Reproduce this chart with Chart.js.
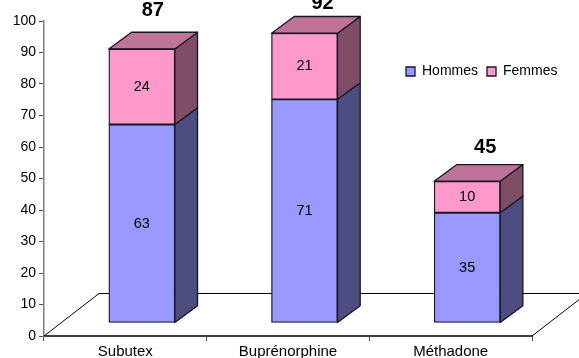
<!DOCTYPE html>
<html>
<head>
<meta charset="utf-8">
<style>html,body{margin:0;padding:0;background:#fff}#w{width:579px;height:358px}</style>
<script src="https://cdn.jsdelivr.net/npm/chart.js@4/dist/chart.umd.min.js"></script>
</head>
<body>
<div id="w"><canvas id="c" width="579" height="358"></canvas></div>
<script>
const categories = ["Subutex", "Buprénorphine", "Méthadone"];
const hommes = [63, 71, 35];
const femmes = [24, 21, 10];
const totals = [87, 92, 45];
const yTicks = [0, 10, 20, 30, 40, 50, 60, 70, 80, 90, 100];

const FONT = "'Liberation Sans', Arial, sans-serif";
const EDGE = '#161625';
const SHIFT_X = 16.5, SHIFT_Y = -13;   // front plane of the 3D box relative to the axes
const DEPTH_X = 22.7, DEPTH_Y = 16.7;  // bar depth
const FLOOR_X = 55, FLOOR_Y = 42.5;    // floor depth
const totalNudge = [[11, -38], [18, -30], [18, -33.5]];
const sideColors = ['#4D4D80', '#804D66'];
const topColor = '#BF7399';

function poly(ctx, pts, fill) {
  ctx.beginPath();
  pts.forEach((p, i) => i ? ctx.lineTo(p[0], p[1]) : ctx.moveTo(p[0], p[1]));
  ctx.closePath();
  ctx.fillStyle = fill; ctx.fill();
  ctx.lineWidth = 1.3; ctx.strokeStyle = EDGE; ctx.lineJoin = 'round'; ctx.stroke();
}

const box3d = {
  id: 'box3d',
  beforeUpdate(chart) {
    const l = chart.legend;
    if (!l._fitWrapped) {
      const f = l.fit;
      l.fit = function () { f.call(this); this.height = 0; };
      l._fitWrapped = true;
    }
  },
  afterLayout(chart) {
    const l = chart.legend;
    l.left = 397; l.right = 579; l.top = 55.5; l.bottom = 90;
  },
  beforeDatasetsDraw(chart) {
    const { ctx, chartArea: a } = chart;
    ctx.save();
    ctx.strokeStyle = '#000'; ctx.lineWidth = 1;
    ctx.beginPath();
    ctx.moveTo(a.left, a.bottom);
    ctx.lineTo(a.left + FLOOR_X, a.bottom - FLOOR_Y);
    ctx.lineTo(chart.width, a.bottom - FLOOR_Y);
    ctx.moveTo(a.right, a.bottom);
    ctx.lineTo(a.right + FLOOR_X, a.bottom - FLOOR_Y);
    ctx.stroke();
    ctx.restore();

    ctx.save();
    ctx.translate(SHIFT_X, SHIFT_Y);
    const n = chart.data.datasets.length;
    for (let d = 0; d < n; d++) {
      chart.getDatasetMeta(d).data.forEach(b => {
        const r = b.x + b.width / 2, l = b.x - b.width / 2;
        poly(ctx, [[r, b.y], [r + DEPTH_X, b.y - DEPTH_Y], [r + DEPTH_X, b.base - DEPTH_Y], [r, b.base]], sideColors[d]);
        if (d === n - 1) {
          poly(ctx, [[l, b.y], [l + DEPTH_X, b.y - DEPTH_Y], [r + DEPTH_X, b.y - DEPTH_Y], [r, b.y]], topColor);
        }
      });
    }
  },
  afterDatasetsDraw(chart) {
    const { ctx } = chart;
    ctx.textAlign = 'center'; ctx.textBaseline = 'middle'; ctx.fillStyle = '#000';
    ctx.font = '14.5px ' + FONT;
    chart.data.datasets.forEach((ds, d) => {
      chart.getDatasetMeta(d).data.forEach((b, i) => {
        ctx.fillText(String(ds.data[i]), b.x, (b.y + b.base) / 2);
      });
    });
    ctx.font = 'bold 20px ' + FONT;
    const tops = chart.getDatasetMeta(chart.data.datasets.length - 1).data;
    totals.forEach((t, i) => {
      ctx.fillText(String(t), tops[i].x + totalNudge[i][0], tops[i].y + totalNudge[i][1]);
    });
    ctx.restore();
  }
};

new Chart(document.getElementById('c'), {
  type: 'bar',
  plugins: [box3d],
  data: {
    labels: categories,
    datasets: [
      { label: 'Hommes', data: hommes, backgroundColor: '#9999FF', borderColor: EDGE, borderWidth: 1.3, borderSkipped: false, barThickness: 66, clip: false },
      { label: 'Femmes', data: femmes, backgroundColor: '#FF99CC', borderColor: EDGE, borderWidth: 1.3, borderSkipped: false, barThickness: 66, clip: false }
    ]
  },
  options: {
    responsive: false,
    animation: false,
    devicePixelRatio: 1,
    layout: { autoPadding: false, padding: { top: 21, right: 47, left: 0, bottom: 0 } },
    plugins: {
      tooltip: { enabled: false },
      title: { display: false },
      legend: {
        position: 'top', align: 'start',
        labels: { boxWidth: 9, boxHeight: 9, padding: 9, color: '#000', font: { family: FONT, size: 14 } }
      }
    },
    scales: {
      x: {
        stacked: true,
        afterFit(s) { s.height = 22; },
        grid: { display: true, drawOnChartArea: false, drawTicks: true, tickLength: 5, color: '#555', offset: true },
        border: { display: true, color: '#404040', width: 2 },
        ticks: { color: '#000', padding: 2, maxRotation: 0, autoSkip: false, font: { family: FONT, size: 15 } }
      },
      y: {
        stacked: true, min: 0, max: 100,
        afterFit(s) { s.width = 44; },
        afterBuildTicks(s) { s.ticks = yTicks.map(v => ({ value: v })); },
        grid: { display: true, drawOnChartArea: false, drawTicks: true, tickLength: 5, color: '#555' },
        border: { display: true, color: '#808080', width: 1.5 },
        ticks: { color: '#000', padding: 3, font: { family: FONT, size: 14 } }
      }
    }
  }
});
</script>
</body>
</html>
